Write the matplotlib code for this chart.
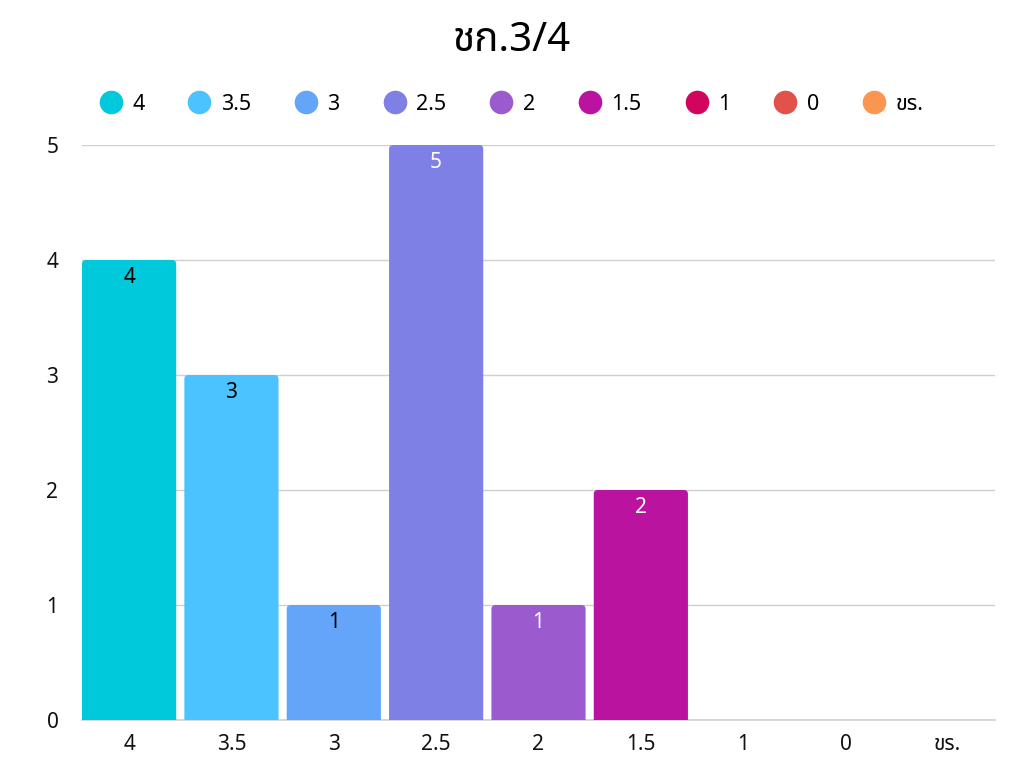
import matplotlib
matplotlib.use("Agg")
import matplotlib.pyplot as plt
from matplotlib.patches import FancyBboxPatch
from matplotlib.lines import Line2D

plt.rcParams['font.family'] = ['Noto Sans Thai', 'Loma', 'Garuda', 'Noto Sans', 'DejaVu Sans']

categories = ['4', '3.5', '3', '2.5', '2', '1.5', '1', '0', 'ขร.']
values = [4, 3, 1, 5, 1, 2, 0, 0, 0]
colors = ['#00C9DB', '#4AC3FF', '#64A5FA', '#7F80E6', '#9B5BCF', '#BA13A0', '#D2045E', '#E2524B', '#F9964F']
label_colors = ['#000000', '#000000', '#000000', '#FFFFFF', '#FFFFFF', '#FFFFFF', '#000000', '#000000', '#000000']
title = 'ชก.3/4'

fig = plt.figure(figsize=(10.24, 7.68), dpi=100)
ax = fig.add_axes([82/1024, 1-720/768, (995-82)/1024, (720-145)/768])
x = list(range(len(categories)))
ax.set_xlim(-0.46, len(categories)-0.54)
ax.set_ylim(0, 5)
bars = ax.bar(x, values, width=0.92, color=colors, zorder=2)

# rounded top corners
xpx = (995-82)/(len(categories)-0.08)
ypx = (720-145)/5
aspect = xpx/ypx
r = 4/xpx
for b, c in zip(bars, colors):
    h = b.get_height()
    if h <= 0:
        continue
    b.set_visible(False)
    p = FancyBboxPatch((b.get_x(), -0.2), b.get_width(), h+0.2,
                       boxstyle=f"round,pad=0,rounding_size={r}",
                       mutation_aspect=aspect, facecolor=c, edgecolor='none', zorder=2)
    ax.add_patch(p)

for xi, v, lc in zip(x, values, label_colors):
    if v > 0:
        ax.text(xi, v - 0.15, str(v), ha='center', va='center', fontsize=15, color=lc, zorder=3)

ax.set_yticks(range(6))
ax.set_xticks(x)
ax.set_xticklabels(categories)
ax.tick_params(axis='both', length=0, labelsize=15, colors='#111111')
ax.tick_params(axis='x', pad=10)
ax.tick_params(axis='y', pad=17)
ax.yaxis.grid(True, color='#D0D0D0', linewidth=1, zorder=0)
ax.axhline(0, color='#D0D0D0', linewidth=1.2, zorder=1, clip_on=False)
ax.set_axisbelow(True)
for s in ax.spines.values():
    s.set_visible(False)

handles = [Line2D([0], [0], marker='o', linestyle='none', markersize=17,
                  markerfacecolor=c, markeredgecolor='none') for c in colors]
fig.legend(handles, categories, loc='center', bbox_to_anchor=(0.498, 1-104/768), ncol=9,
           frameon=False, fontsize=15.5, handletextpad=0.35, columnspacing=1.9, handlelength=1.3)

fig.text(0.5, 1-41/768, title, ha='center', va='center', fontsize=29, color='#000000')

fig.savefig('out.png', dpi=100, facecolor='white')
